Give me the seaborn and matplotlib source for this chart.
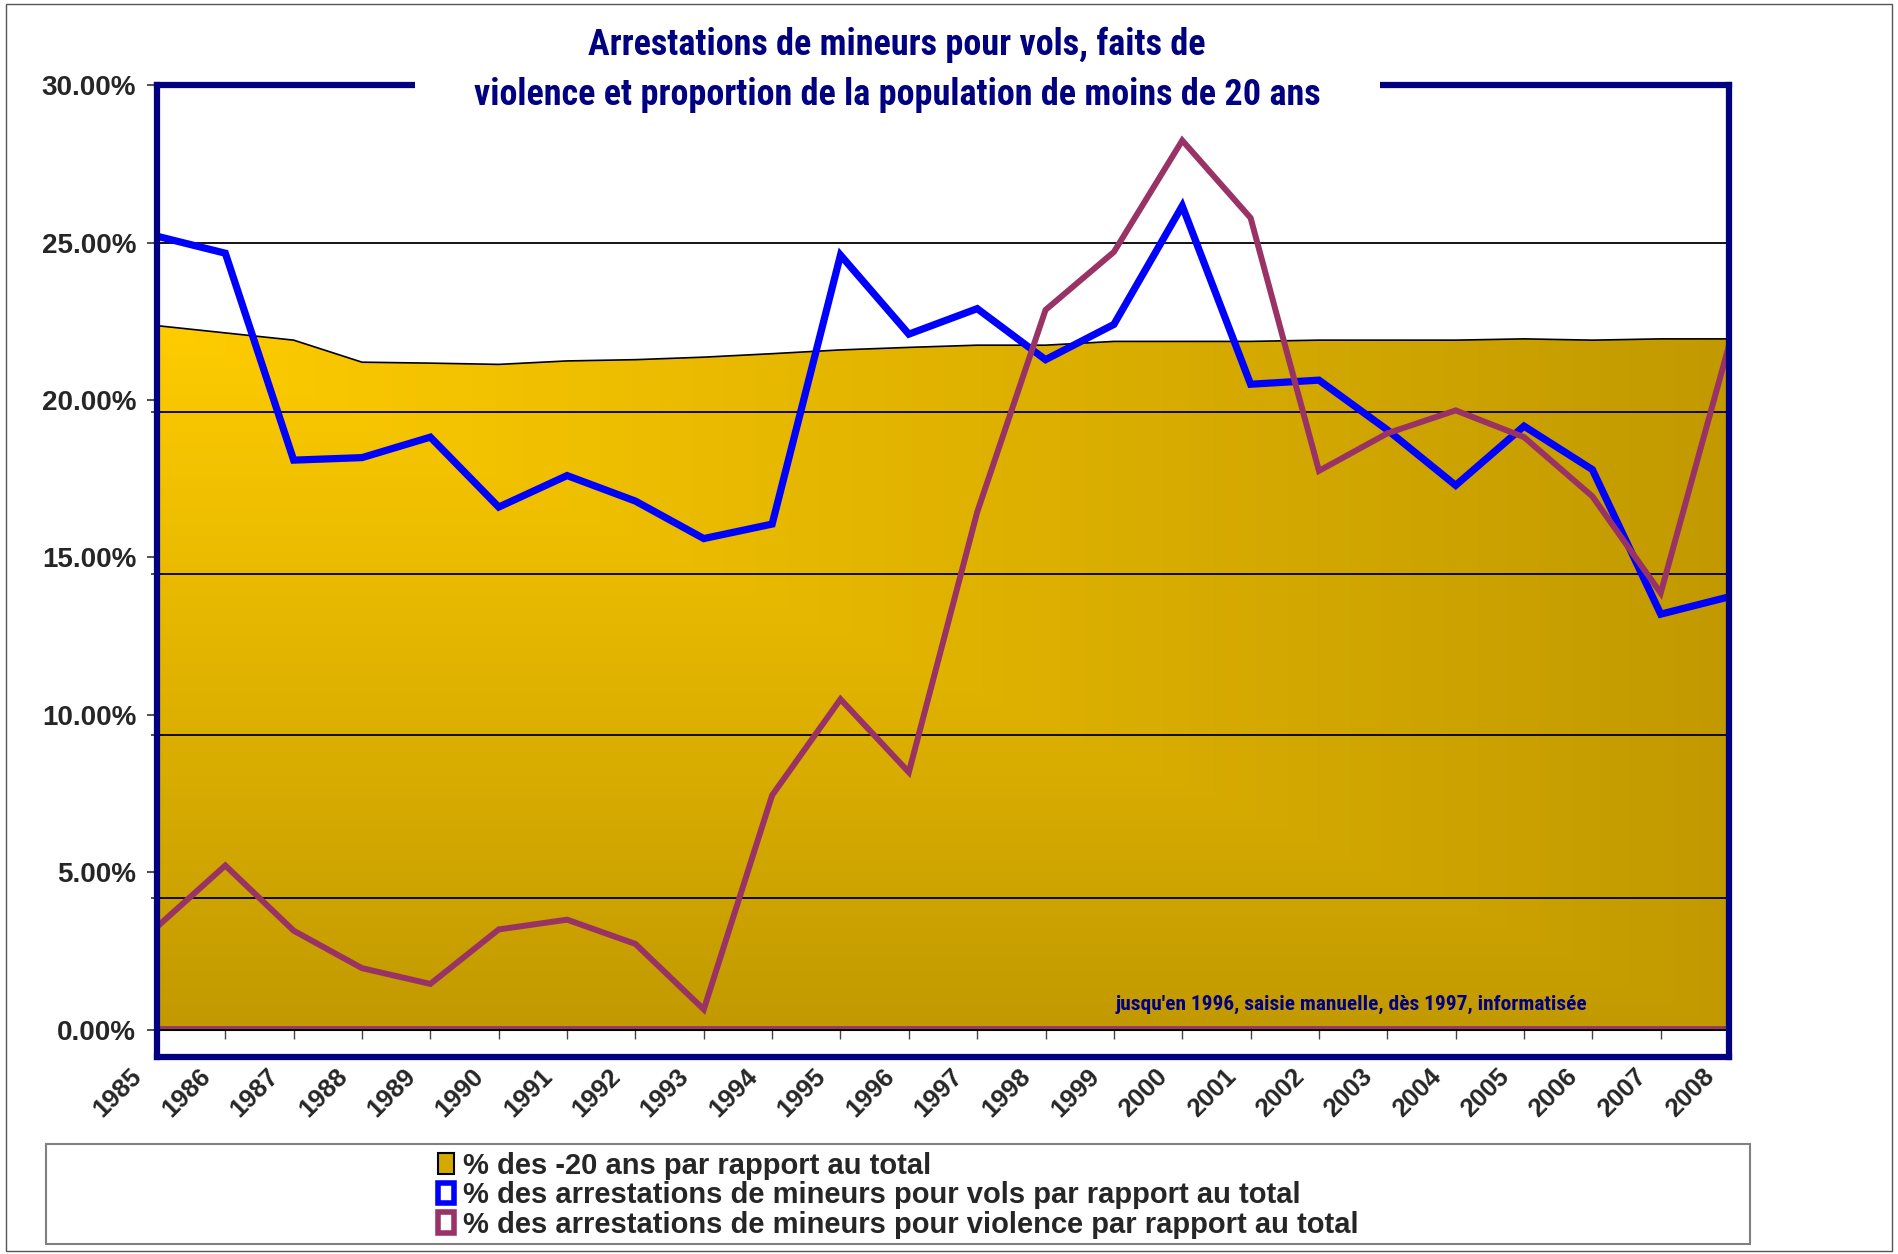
import numpy as np
import pandas as pd
import matplotlib
matplotlib.use('Agg')
import matplotlib.pyplot as plt
import seaborn as sns
from matplotlib.patches import Rectangle, Patch
from matplotlib.colors import LinearSegmentedColormap
from matplotlib.transforms import ScaledTranslation
from matplotlib import font_manager

# données (en %)
years = list(range(1985, 2009))
pct_moins_20 = [22.36, 22.13, 21.90, 21.20, 21.17, 21.13, 21.24, 21.28, 21.36, 21.47,
                21.59, 21.67, 21.74, 21.74, 21.86, 21.86, 21.86, 21.90, 21.90, 21.90,
                21.94, 21.90, 21.94, 21.94]
pct_vols = [25.20, 24.66, 18.09, 18.17, 18.82, 16.60, 17.60, 16.79, 15.60, 16.06,
            24.60, 22.09, 22.90, 21.28, 22.40, 26.16, 20.50, 20.63, 19.05, 17.29,
            19.17, 17.79, 13.20, 13.75]
pct_violence = [3.27, 5.22, 3.15, 1.96, 1.46, 3.19, 3.50, 2.73, 0.65, 7.45,
                10.50, 8.18, 16.44, 22.86, 24.70, 28.24, 25.78, 17.75, 18.94, 19.67,
                18.82, 16.94, 13.87, 21.74]
y_ticks = [0, 5, 10, 15, 20, 25, 30]
grid_levels = [25, 19.63, 14.48, 9.37, 4.19]

labels = ['% des -20 ans par rapport au total',
          '% des arrestations de mineurs pour vols par rapport au total',
          '% des arrestations de mineurs pour violence par rapport au total']
title = ('Arrestations de mineurs pour vols, faits de\n'
         'violence et proportion de la population de moins de 20 ans')
note = "jusqu'en 1996, saisie manuelle, dès 1997, informatisée"

NAVY = '#000080'
BLUE = '#0000FF'
PLUM = '#993366'

sns.set_theme(style='white')
plt.rcParams['font.family'] = ['Liberation Sans', 'DejaVu Sans']

# police étroite si dispo (titre façon Arial Narrow)
narrow, title_size, note_size = 'Liberation Sans', 21.8, 13
for cand, size, nsize in [('Liberation Sans Narrow', 27, 16), ('Roboto Condensed', 26, 15.4),
                          ('Open Sans Condensed', 26, 15)]:
    try:
        font_manager.findfont(font_manager.FontProperties(family=cand),
                              fallback_to_default=False)
        narrow, title_size, note_size = cand, size, nsize
        break
    except ValueError:
        pass

df = pd.DataFrame({'annee': years, 'moins20': pct_moins_20,
                   'vols': pct_vols, 'violence': pct_violence})

fig = plt.figure(figsize=(18.98, 12.54), dpi=100)
ax = fig.add_axes([0.0827, 0.1571, 0.8283, 0.7751])
ax.set_facecolor('white')

# surface -20 ans avec dégradé
area = ax.fill_between(df['annee'], 0, df['moins20'], facecolor='none',
                       edgecolor='black', lw=1.2, zorder=3)
u = np.linspace(0, 1, 500)[None, :]
v = np.linspace(0, 1, 300)[:, None]
cmap = LinearSegmentedColormap.from_list('or', ['#FFCC00', '#C29A00'])
img = ax.imshow(np.maximum(u, v), cmap=cmap, aspect='auto', origin='upper',
                extent=[years[0], years[-1], 0, max(pct_moins_20)], zorder=1)
img.set_clip_path(area.get_paths()[0], ax.transData)

for g in grid_levels:
    ax.axhline(g, color='black', lw=1.3, zorder=2.5)
ax.axhline(0, color='black', lw=1.5, zorder=2.5)
ax.axhline(0.08, color=PLUM, lw=2, zorder=2.6)
ax.vlines(years[1:], -0.3, 0, color='#444444', lw=1, zorder=2)

sns.lineplot(data=df, x='annee', y='vols', color=BLUE, lw=5.2, ax=ax, zorder=5)
sns.lineplot(data=df, x='annee', y='violence', color=PLUM, lw=4.3, ax=ax, zorder=6)
for ln in ax.lines[-2:]:
    ln.set_solid_joinstyle('miter')

ax.set_xlim(years[0], years[-1])
ax.set_ylim(-0.86, 30)
ax.set_xlabel('')
ax.set_ylabel('')

ax.set_yticks(y_ticks)
ax.set_yticklabels([f'{t:.2f}%' for t in y_ticks], fontsize=20, fontweight='bold')
ax.set_yticks(grid_levels, minor=True)
ax.tick_params(axis='y', which='major', direction='out', length=7, width=1.2,
               color='#333333', pad=8, left=True)
ax.tick_params(axis='y', which='minor', direction='out', length=4, width=1.2,
               color='#333333', left=True)
ax.set_xticks(years)
ax.set_xticklabels([str(y) for y in years], rotation=45, ha='right', va='top',
                   fontsize=18.5, fontweight='bold')
ax.tick_params(axis='x', length=0, pad=5)
shift = ScaledTranslation(-0.10, 0, fig.dpi_scale_trans)
for lab in ax.get_xticklabels():
    lab.set_transform(lab.get_transform() + shift)

for s in ax.spines.values():
    s.set_color(NAVY)
    s.set_linewidth(4.5)
    s.set_zorder(7)

ax.text(2002.47, 0.8, note, ha='center', va='center', color=NAVY,
        fontsize=note_size, fontweight='bold', family=[narrow, 'DejaVu Sans'], zorder=8)

# titre (coupe le cadre)
fig.add_artist(Rectangle((0.2187, 0.915), 0.5084, 0.03, transform=fig.transFigure,
                         facecolor='white', edgecolor='none', zorder=3))
fig.text(0.4726, 0.9440, title, ha='center', va='center', color=NAVY,
         fontsize=title_size, fontweight='bold', family=[narrow, 'DejaVu Sans'],
         linespacing=1.5, zorder=4)

# légende
fig.add_artist(Rectangle((0.0242, 0.008), 0.898, 0.0797, transform=fig.transFigure,
                         facecolor='white', edgecolor='#808080', lw=1.5, zorder=1))
handles = [Patch(facecolor='#D4AA00', edgecolor='black', lw=1.5),
           Patch(facecolor='white', edgecolor=BLUE, lw=4),
           Patch(facecolor='white', edgecolor=PLUM, lw=4)]
fig.legend(handles, labels, loc='center', bbox_to_anchor=(0.4731, 0.047),
           frameon=False, prop={'size': 21, 'weight': 'bold'}, handlelength=0.55,
           handleheight=0.7, handletextpad=0.3, labelspacing=0.05, borderpad=0)

# bordure extérieure
fig.add_artist(Rectangle((0.003, 0.002), 0.994, 0.995, transform=fig.transFigure,
                         facecolor='none', edgecolor='#555555', lw=1, zorder=0))

fig.savefig('out.png', dpi=100)
